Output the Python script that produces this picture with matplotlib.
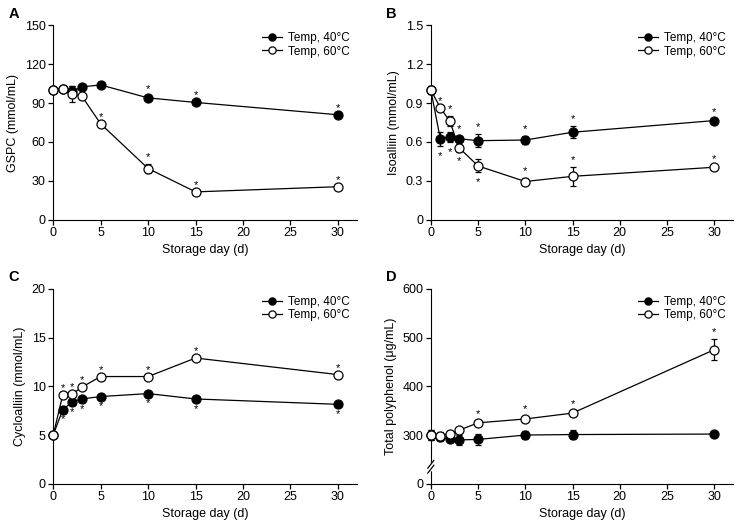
import matplotlib
matplotlib.use("Agg")
import matplotlib.pyplot as plt
import numpy as np

plt.rcParams['font.family'] = ['Liberation Sans', 'DejaVu Sans']
plt.rcParams['font.size'] = 9

# storage days
days = [0, 1, 2, 3, 5, 10, 15, 30]

# A: GSPC (mmol/mL)
gspc_40 = [100, 101, 99, 102.5, 104, 94, 90.5, 81]
gspc_40_err = [0, 0, 4, 0, 0, 1.5, 0, 0]
gspc_60 = [100, 101, 97, 95.5, 74, 39.5, 21.5, 25.5]
gspc_60_err = [0, 0, 6, 0, 0, 3.5, 0, 0]
gspc_40_sig = [0, 0, 0, 0, 0, 1, 1, 1]
gspc_60_sig = [0, 0, 0, 0, 1, 1, 1, 1]

# B: Isoalliin (mmol/mL)
iso_40 = [1.0, 0.625, 0.64, 0.625, 0.61, 0.615, 0.675, 0.765]
iso_40_err = [0.03, 0.055, 0.04, 0.02, 0.05, 0.03, 0.045, 0.01]
iso_60 = [1.0, 0.865, 0.76, 0.555, 0.415, 0.295, 0.335, 0.405]
iso_60_err = [0.03, 0.0, 0.04, 0.03, 0.05, 0.03, 0.075, 0.01]
iso_40_sig = [0, -1, -1, 1, 1, 1, 1, 1]
iso_60_sig = [0, 1, 1, -1, -1, 1, 1, 1]

# C: Cycloalliin (mmol/mL)
cyc_40 = [5.0, 7.6, 8.4, 8.7, 8.95, 9.25, 8.7, 8.15]
cyc_40_err = [0, 0, 0, 0, 0, 0, 0, 0]
cyc_60 = [5.0, 9.1, 9.2, 9.9, 11.0, 11.0, 12.9, 11.2]
cyc_60_err = [0, 0, 0, 0, 0, 0, 0, 0]
cyc_40_sig = [0, -1, -1, -1, -1, -1, -1, -1]
cyc_60_sig = [0, 1, 1, 1, 1, 1, 1, 1]

# D: Total polyphenol (ug/mL)
poly_40 = [300, 296, 291, 290, 291, 300, 301, 302]
poly_40_err = [10, 8, 4, 10, 12, 9, 9, 3]
poly_60 = [300, 299, 302, 310, 325, 333, 345, 475]
poly_60_err = [10, 7, 6, 3, 4, 7, 5, 22]
poly_40_sig = [0, 0, 0, 0, 0, 0, 0, 0]
poly_60_sig = [0, 0, 0, 0, 1, 1, 1, 1]


def draw_panel(ax, y40, y60, e40, e60, s40, s60, ylim, yticks, ylabel, letter, yticklabels):
    for y, e, face, sig, lab in [(y40, e40, 'black', s40, 'Temp, 40°C'),
                                 (y60, e60, 'white', s60, 'Temp, 60°C')]:
        ax.errorbar(days, y, yerr=e, fmt='none', ecolor='black', elinewidth=0.9,
                    capsize=2.5, capthick=0.9, zorder=2, clip_on=False)
        ax.plot(days, y, color='black', lw=0.9, marker='o', ms=6.5, mfc=face,
                mec='black', mew=0.9, label=lab, zorder=3, clip_on=False)
        for xi, yi, ei, si in zip(days, y, e, sig):
            if si == 0:
                continue
            off = 5 if si > 0 else -7
            ax.annotate('*', (xi, yi + si * ei), xytext=(0, off),
                        textcoords='offset points', ha='center', va='center', fontsize=8)
    ax.set_xlim(0, 32)
    ax.set_ylim(*ylim)
    ax.set_xticks([0, 5, 10, 15, 20, 25, 30])
    ax.set_yticks(yticks)
    ax.set_yticklabels(yticklabels)
    ax.spines['top'].set_visible(False)
    ax.spines['right'].set_visible(False)
    ax.tick_params(direction='out', length=3.5, width=0.9, labelsize=9, pad=2)
    ax.set_xlabel('Storage day (d)', fontsize=9, labelpad=3)
    ax.set_ylabel(ylabel, fontsize=9, labelpad=4)
    ax.legend(loc='upper right', frameon=False, fontsize=8.5, handlelength=1.7,
              handletextpad=0.5, borderaxespad=0.2, labelspacing=0.1, markerscale=0.8)
    ax.text(-0.148, 1.06, letter, transform=ax.transAxes, fontsize=10.5,
            fontweight='bold', ha='left', va='center')


fig = plt.figure(figsize=(7.39, 5.27), dpi=100)
axA = fig.add_axes([0.072, 0.583, 0.411, 0.369])
axB = fig.add_axes([0.583, 0.583, 0.409, 0.369])
axC = fig.add_axes([0.072, 0.082, 0.411, 0.370])
axD = fig.add_axes([0.583, 0.082, 0.409, 0.370])

draw_panel(axA, gspc_40, gspc_60, gspc_40_err, gspc_60_err, gspc_40_sig, gspc_60_sig,
           (0, 150), [0, 30, 60, 90, 120, 150], 'GSPC (mmol/mL)', 'A',
           ['0', '30', '60', '90', '120', '150'])
draw_panel(axB, iso_40, iso_60, iso_40_err, iso_60_err, iso_40_sig, iso_60_sig,
           (0, 1.5), [0, 0.3, 0.6, 0.9, 1.2, 1.5], 'Isoalliin (mmol/mL)', 'B',
           ['0', '0.3', '0.6', '0.9', '1.2', '1.5'])
draw_panel(axC, cyc_40, cyc_60, cyc_40_err, cyc_60_err, cyc_40_sig, cyc_60_sig,
           (0, 20), [0, 5, 10, 15, 20], 'Cycloalliin (mmol/mL)', 'C',
           ['0', '5', '10', '15', '20'])
draw_panel(axD, poly_40, poly_60, poly_40_err, poly_60_err, poly_40_sig, poly_60_sig,
           (200, 600), [200, 300, 400, 500, 600], 'Total polyphenol (μg/mL)', 'D',
           ['0', '300', '400', '500', '600'])

# axis break on panel D
gap = [0.075, 0.1]
axD.plot([0, 0], gap, transform=axD.transAxes, color='white', lw=2.5,
         clip_on=False, zorder=5)
for g in gap:
    axD.plot([-0.01, 0.01], [g - 0.02, g + 0.02], transform=axD.transAxes,
             color='black', lw=0.9, clip_on=False, zorder=6)

fig.savefig('out.png', dpi=100)
